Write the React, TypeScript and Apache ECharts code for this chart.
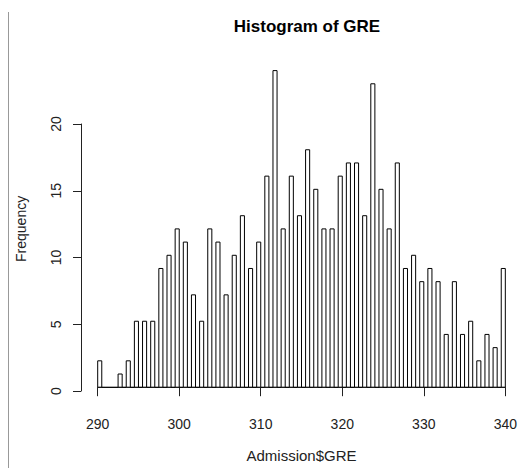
import React, { useEffect, useRef } from "react";
import * as echarts from "echarts";

const greScores: number[] = [
  290, 291, 292, 293, 294, 295, 296, 297, 298, 299,
  300, 301, 302, 303, 304, 305, 306, 307, 308, 309,
  310, 311, 312, 313, 314, 315, 316, 317, 318, 319,
  320, 321, 322, 323, 324, 325, 326, 327, 328, 329,
  330, 331, 332, 333, 334, 335, 336, 337, 338, 339, 340,
];
const frequencies: number[] = [
  2, 0, 0, 1, 2, 5, 5, 5, 9, 10,
  12, 11, 7, 5, 12, 11, 7, 10, 13, 9,
  11, 16, 24, 12, 16, 13, 18, 15, 12, 12,
  16, 17, 17, 13, 23, 15, 12, 17, 9, 10,
  8, 9, 8, 4, 8, 4, 5, 2, 4, 3, 9,
];
const xTicks: number[] = [290, 300, 310, 320, 330, 340];
const yTicks: number[] = [0, 5, 10, 15, 20];
const binStart = 290;
const binEnd = 340;
const binWidth = 0.5;

export default function App() {
  const ref = useRef<HTMLDivElement>(null);
  useEffect(() => {
    if (!ref.current) return;
    const chart = echarts.init(ref.current, undefined, { renderer: "svg" });
    const nBins = Math.round((binEnd - binStart) / binWidth);
    const counts = new Array(nBins).fill(0);
    greScores.forEach((s, i) => {
      // R hist: right-closed bins, include.lowest
      const idx = s === binStart ? 0 : Math.ceil((s - binStart) / binWidth) - 1;
      counts[idx] += frequencies[i];
    });
    const bins = counts.map((c, i) => [binStart + i * binWidth, binStart + (i + 1) * binWidth, c]);
    const font = "Liberation Sans, Arial, sans-serif";
    const left = 97.7;
    const right = 520 - 507.3;
    const bottom = 468 - 391;
    const option: any = {
      animation: false,
      backgroundColor: "#ffffff",
      title: {
        text: "Histogram of GRE",
        left: 302,
        top: 13,
        textAlign: "center",
        textStyle: { fontFamily: font, fontSize: 17, fontWeight: "bold", color: "#000" },
      },
      grid: [
        { left, right, top: 391 - 24 * 13.35, bottom },
        { left, right, top: 391 - 20 * 13.35, bottom },
      ],
      xAxis: [
        {
          type: "value",
          gridIndex: 0,
          min: xTicks[0],
          max: xTicks[xTicks.length - 1],
          interval: 10,
          offset: 12.3,
          axisLine: { show: true, lineStyle: { color: "#222", width: 1 } },
          axisTick: { show: true, length: 9, lineStyle: { color: "#222" } },
          axisLabel: { fontFamily: font, fontSize: 14, color: "#222", margin: 17 },
          splitLine: { show: false },
          name: "Admission$GRE",
          nameLocation: "middle",
          nameGap: 48.5,
          nameTextStyle: { fontFamily: font, fontSize: 15, color: "#222" },
        },
        {
          type: "value",
          gridIndex: 1,
          min: 290,
          max: 340,
          show: false,
        },
      ],
      yAxis: [
        {
          type: "value",
          gridIndex: 0,
          min: 0,
          max: 24,
          axisLine: { show: false },
          axisTick: { show: false },
          axisLabel: { show: false },
          splitLine: { show: false },
          name: "Frequency",
          nameLocation: "middle",
          nameGap: 70,
          nameTextStyle: { fontFamily: font, fontSize: 14, color: "#222" },
        },
        {
          type: "value",
          gridIndex: 1,
          min: yTicks[0],
          max: yTicks[yTicks.length - 1],
          interval: 5,
          offset: 16.7,
          axisLine: { show: true, lineStyle: { color: "#222", width: 1 } },
          axisTick: { show: true, length: 8, lineStyle: { color: "#222" } },
          axisLabel: { fontFamily: font, fontSize: 14, color: "#222", margin: 18, rotate: 90 },
          splitLine: { show: false },
        },
      ],
      graphic: [
        {
          type: "line",
          shape: { x1: 8.5, y1: 12, x2: 8.5, y2: 468 },
          style: { stroke: "#999", lineWidth: 1 },
        },
      ],
      series: [
        {
          type: "custom",
          xAxisIndex: 0,
          yAxisIndex: 0,
          data: bins,
          encode: { x: [0, 1], y: 2 },
          renderItem: (params: any, api: any) => {
            const x0 = api.value(0);
            const x1 = api.value(1);
            const c = api.value(2);
            const p0 = api.coord([x0, c]);
            const p1 = api.coord([x1, 0]);
            if (c === 0) {
              return {
                type: "line",
                shape: { x1: p0[0], y1: p1[1], x2: p1[0], y2: p1[1] },
                style: { stroke: "#000", lineWidth: 1 },
              };
            }
            return {
              type: "rect",
              shape: { x: p0[0], y: p0[1], width: p1[0] - p0[0], height: p1[1] - p0[1] },
              style: { fill: "#fff", stroke: "#000", lineWidth: 1 },
            };
          },
        },
      ],
    };
    chart.setOption(option);
    return () => chart.dispose();
  }, []);
  return (
    <div
      ref={ref}
      style={{ position: "fixed", left: 0, top: 0, width: 520, height: 468, background: "#fff" }}
    />
  );
}
